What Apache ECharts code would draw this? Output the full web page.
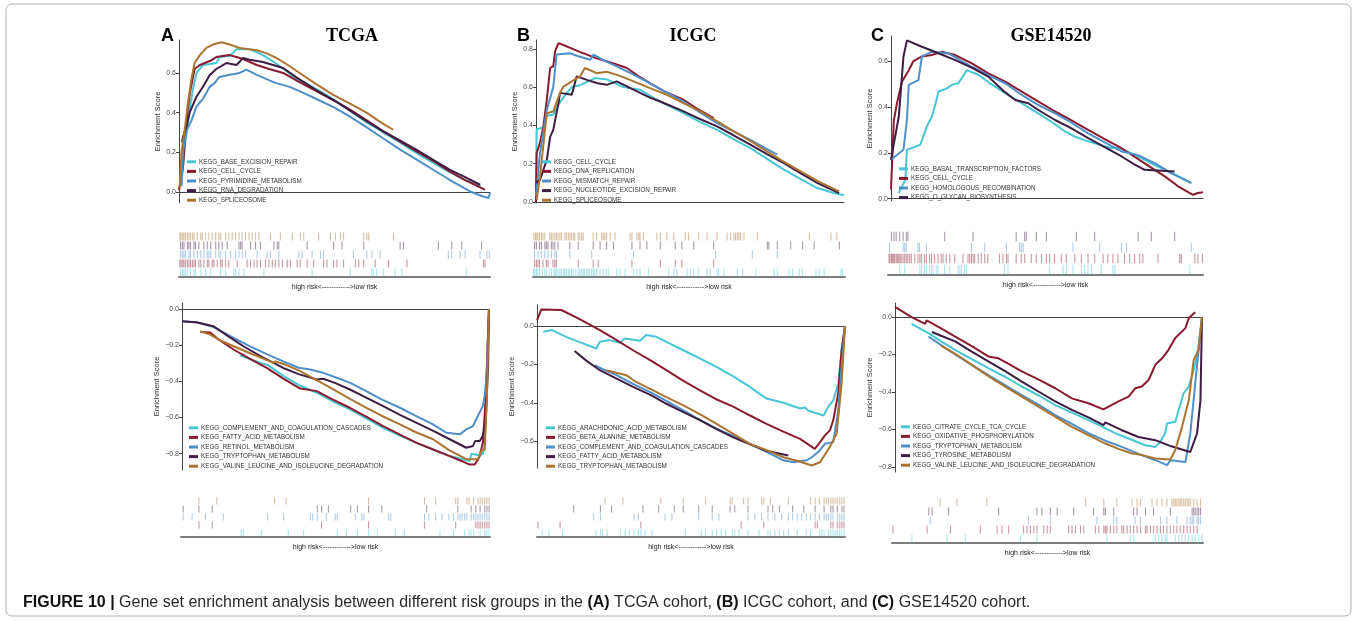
<!DOCTYPE html>
<html>
<head>
<meta charset="utf-8">
<script src="https://cdn.jsdelivr.net/npm/echarts@6/dist/echarts.min.js"></script>
<style>html,body{margin:0;background:#fff}#main{width:1357px;height:621px}</style>
</head>
<body>
<div id="main"></div>
<script>
var colors = ['#47c6d4', '#8a1a2e', '#4f8fc8', '#3d1d42', '#ab7430'];

// ---- TCGA ----
var tcgaUpSets = ['KEGG_BASE_EXCISION_REPAIR', 'KEGG_CELL_CYCLE', 'KEGG_PYRIMIDINE_METABOLISM', 'KEGG_RNA_DEGRADATION', 'KEGG_SPLICEOSOME'];
var tcgaUpCurves = [
  [[0.8,0.045],[2,0.25],[3.5,0.42],[4.5,0.52],[5.6,0.6],[7.7,0.64],[10,0.645],[12,0.65],[13,0.68],[16.3,0.685],[18.5,0.72],[22.7,0.72],[27,0.69],[31,0.65],[37,0.58],[44,0.52],[50,0.465],[55,0.41],[60,0.355],[65.7,0.3],[71,0.25],[76,0.2],[82,0.145],[87,0.1],[92,0.06],[97,0.03]],
  [[0,0.01],[1.3,0.13],[2.4,0.36],[3.5,0.5],[5,0.62],[6.7,0.64],[9.9,0.66],[12,0.68],[14,0.685],[16.3,0.69],[18.5,0.68],[20.6,0.67],[25,0.64],[29,0.62],[33.5,0.6],[38,0.56],[44,0.51],[50,0.46],[55,0.415],[60,0.365],[65.7,0.306],[71,0.255],[76.4,0.205],[82,0.155],[87,0.104],[92,0.06],[97.3,0.02],[98.4,0.012]],
  [[0.8,0.03],[1.3,0.2],[2.4,0.31],[4,0.36],[5.6,0.43],[7.7,0.47],[9.9,0.53],[11.5,0.55],[13,0.58],[16,0.59],[19.5,0.6],[21.7,0.617],[25,0.59],[28,0.57],[31,0.55],[35.6,0.53],[40,0.5],[44,0.47],[50,0.425],[55,0.38],[60,0.33],[65.7,0.27],[71,0.215],[76.4,0.163],[82,0.11],[87,0.062],[93.6,0.003],[97.8,-0.022],[99.5,-0.03],[100,-0.005]],
  [[1,0.25],[1.3,0.28],[2.4,0.33],[3.4,0.4],[5.6,0.48],[7.7,0.53],[9.9,0.59],[12,0.62],[15.2,0.65],[18.5,0.64],[20.6,0.675],[22.7,0.667],[27,0.655],[33.5,0.625],[38,0.575],[44,0.515],[50,0.46],[55,0.41],[60,0.36],[65.7,0.306],[71,0.26],[76.4,0.213],[82,0.16],[87,0.113],[92,0.075],[96.8,0.037]],
  [[0.2,0.02],[0.8,0.2],[1.8,0.31],[2.9,0.45],[4,0.57],[5,0.65],[6.7,0.69],[8.8,0.726],[10.9,0.743],[13.6,0.755],[16.3,0.743],[19.5,0.726],[25,0.714],[28,0.7],[31.3,0.676],[35,0.64],[38.8,0.6],[44,0.545],[49.6,0.49],[55,0.445],[60.3,0.4],[65,0.35],[68.9,0.314]]
];
var tcgaUpHits = [
  [0.5,1.1,1.6,2.1,2.7,3.7,4.8,5.3,7,8.6,10.2,13.4,15,17.6,18.2,19.3,20.9,27.3,42.8,55.1,62,62.6,63.6,65.8,69.5,71.7,92.5],
  [0.3,0.7,1.2,1.6,2.1,2.7,3.2,3.7,4.3,4.8,5.3,6.4,7,8,9.1,9.6,10.7,11.2,12.3,13.4,13.9,15,16,18.7,21.9,23,24.1,25.1,26.2,27.8,28.9,30,31,32.1,33.2,34.8,35.8,38,39,41.2,43.3,46.5,47.6,49.7,50.8,52.9,56.7,57.8,59.4,63.1,67.4,73.3,97.9,98.4],
  [0.5,1.1,1.6,2.1,3.2,3.7,4.8,5.9,7,8,9.1,9.6,10.2,11.8,12.8,13.4,15,16.6,18.2,19.3,20.3,21.4,25.1,28.3,29.4,32.1,38.5,39.6,42.8,45.5,46.5,56.1,60.4,62,64.7,86.6,87.7,90.4,92,96.8,99,99.8],
  [0.5,1.1,1.6,2.7,3.2,3.7,4.8,5.3,6.4,8,9.1,10.2,11.8,12.8,13.9,15.5,19.3,19.8,20.3,23,24.6,26.2,30.5,31.6,32.1,41.2,49.7,52.4,59.4,71.1,72.2,83.4,87.7,90.9,97.3],
  [0.3,0.7,1.2,1.6,2.1,2.7,3.2,3.7,4.3,4.8,5.9,7,7.5,8.6,9.6,10.7,11.8,12.8,13.4,15,16,17.1,18.2,19.3,20.3,21.4,22.5,23.5,24.6,25.7,29.4,32.6,36.4,39,40.1,44.9,48.7,50.3,51.9,52.9,59.4,60.4,61,69]
];
var tcgaDownSets = ['KEGG_COMPLEMENT_AND_COAGULATION_CASCADES', 'KEGG_FATTY_ACID_METABOLISM', 'KEGG_RETINOL_METABOLISM', 'KEGG_TRYPTOPHAN_METABOLISM', 'KEGG_VALINE_LEUCINE_AND_ISOLEUCINE_DEGRADATION'];
var tcgaDownCurves = [
  [[19,-0.257],[22,-0.275],[25.5,-0.298],[28,-0.31],[33,-0.37],[38,-0.42],[43.9,-0.463],[49,-0.51],[54.7,-0.555],[60,-0.605],[65.5,-0.657],[71,-0.7],[76.4,-0.74],[82,-0.778],[87.2,-0.813],[93.7,-0.84],[94.3,-0.8],[97,-0.81],[98,-0.8],[98.6,-0.76],[99.1,-0.5],[100,0]],
  [[6,-0.127],[9.2,-0.13],[12,-0.17],[16.8,-0.224],[22,-0.275],[27.6,-0.326],[33,-0.385],[38.5,-0.44],[43.9,-0.454],[49,-0.5],[54.7,-0.546],[60,-0.595],[65.5,-0.647],[71,-0.695],[76.4,-0.74],[82,-0.778],[87.2,-0.813],[91,-0.84],[93.7,-0.86],[95.3,-0.86],[96.5,-0.83],[97,-0.81],[98,-0.74],[98.9,-0.5],[99.7,-0.13],[100,0]],
  [[0,-0.068],[4.9,-0.074],[10.3,-0.1],[13,-0.125],[16.8,-0.16],[22,-0.205],[27.6,-0.25],[33,-0.29],[38,-0.325],[41.7,-0.335],[46,-0.353],[50.4,-0.38],[55,-0.41],[60,-0.454],[65,-0.5],[71,-0.546],[76,-0.59],[81.8,-0.638],[86.1,-0.684],[90.5,-0.693],[92.6,-0.666],[94.8,-0.647],[96.4,-0.59],[98,-0.537],[98.6,-0.48],[99.3,-0.353],[100,0]],
  [[0,-0.068],[5,-0.075],[10.3,-0.096],[15,-0.15],[20,-0.206],[26,-0.265],[33,-0.326],[38,-0.36],[43.9,-0.39],[46,-0.386],[50,-0.41],[54.7,-0.445],[60,-0.49],[65.5,-0.537],[71,-0.585],[76.4,-0.629],[82,-0.675],[87.2,-0.72],[92.6,-0.767],[94.8,-0.757],[95.5,-0.73],[97,-0.73],[98,-0.7],[98.9,-0.63],[99.7,-0.316],[100,0]],
  [[6,-0.123],[9.2,-0.142],[12,-0.17],[16.8,-0.206],[23,-0.25],[29.8,-0.298],[30.5,-0.29],[34,-0.31],[38.5,-0.344],[44,-0.395],[49.3,-0.445],[55,-0.5],[60.1,-0.546],[65,-0.59],[71,-0.638],[76,-0.68],[81.8,-0.72],[87,-0.78],[92.6,-0.83],[96.4,-0.83],[97.5,-0.785],[98.6,-0.776],[99.3,-0.5],[100,0]]
];
var tcgaDownHits = [
  [19.5,20.2,26,34.7,39.7,50.6,53.5,57.1,60.7,63.6,69.4,72.3,83.8,88.2,91.8,93.2,93.9,94.7,96.8,98.3,99,99.7],
  [5.8,10.1,45.5,60.7,78.8,88.9,95.4,96.1,96.8,97.5,98.3,99,99.7],
  [0.7,3.6,7.9,13.7,28,33.2,41.9,42.6,44.1,47,49.9,50.6,56.4,58.5,59.2,67.2,67.9,78.8,80.2,82.4,84.5,86.7,88.2,89.6,90.3,91,91.8,92.5,93.9,94.7,95.4,96.1,96.8,97.5,98.3,99,99.7],
  [0.7,5.8,10.1,44.1,45.5,47.7,54.9,57.1,60.7,65,79.5,89.6,93.9,95.4,96.8,98.3,99,99.7],
  [5.8,11.6,30.3,34,60.7,78.8,82.4,88.9,89.6,92.5,93.2,94.7,96.1,96.8,97.5,98.3,99,99.7]
];

// ---- ICGC ----
var icgcUpSets = ['KEGG_CELL_CYCLE', 'KEGG_DNA_REPLICATION', 'KEGG_MISMATCH_REPAIR', 'KEGG_NUCLEOTIDE_EXCISION_REPAIR', 'KEGG_SPLICEOSOME'];
var icgcUpCurves = [
  [[0,0.01],[0.2,0.38],[2.4,0.39],[3.5,0.45],[5.6,0.456],[7.3,0.51],[10,0.57],[11.6,0.6],[14.3,0.61],[17,0.63],[19.2,0.647],[23,0.64],[28.4,0.6],[33.8,0.586],[39.3,0.534],[43.5,0.5],[47.9,0.464],[53,0.42],[58.8,0.377],[64,0.33],[69.6,0.282],[75,0.225],[80.5,0.169],[86,0.12],[91.3,0.073],[96.7,0.047],[100,0.035]],
  [[0,0],[0.2,0.256],[1.3,0.31],[2.4,0.395],[3.5,0.534],[4.6,0.7],[5.6,0.708],[6.2,0.786],[7.3,0.83],[8.9,0.82],[14,0.785],[19.7,0.75],[25,0.725],[29.5,0.7],[33,0.66],[37.1,0.62],[42,0.575],[47.9,0.534],[52,0.49],[57.7,0.438]],
  [[0,0.03],[1.3,0.256],[3.5,0.48],[5.6,0.6],[6.7,0.77],[11,0.777],[14,0.76],[17.6,0.743],[18.7,0.77],[22,0.74],[26.2,0.708],[31,0.67],[37.1,0.62],[42,0.575],[47.9,0.525],[53,0.47],[58.8,0.412],[64,0.37],[69.6,0.325],[74,0.285],[78.3,0.247]],
  [[0,0.1],[1.3,0.117],[3.5,0.22],[4.6,0.34],[5.6,0.377],[7.3,0.517],[7.8,0.57],[11.6,0.56],[13.2,0.656],[16.5,0.638],[20,0.62],[23,0.612],[26.2,0.63],[30,0.6],[33.8,0.57],[37,0.545],[40.3,0.525],[44,0.5],[47.9,0.473],[53,0.435],[58.8,0.395],[64,0.35],[69.6,0.3],[75,0.25],[80.5,0.203],[86,0.15],[91.3,0.1],[98.4,0.047]],
  [[0.2,0.012],[1.3,0.134],[3.5,0.464],[5.6,0.473],[7.8,0.57],[8.9,0.603],[11.6,0.63],[14.3,0.656],[15.9,0.7],[19.7,0.673],[23,0.68],[27,0.66],[31.7,0.63],[37,0.595],[42.5,0.56],[48,0.515],[53.4,0.473],[59,0.42],[64.2,0.369],[70,0.315],[75,0.264],[80,0.215],[85.9,0.16],[92,0.105],[98.4,0.056]]
];
var icgcUpHits = [
  [0.2,0.6,1.1,1.5,2.1,3,3.8,4.3,5.2,5.9,6.7,7.1,7.5,8,8.6,9.1,9.7,10.2,10.7,11.3,11.8,12.3,12.9,13.7,14.5,15,15.6,16.1,16.6,17.2,17.7,18.2,18.8,19.3,19.8,20.4,21.5,22.5,23.4,24.1,26.8,27.9,29.5,32.2,33.3,34.3,37,43.5,45.1,46.1,49.4,50.4,51.5,53.1,55.8,56.9,59,59.5,61.2,65.5,67.1,71.4,77.3,78.3,82.1,83.2,85.3,86.4,90.7,91.7,93.3,98.7,99.2],
  [0.5,1.1,1.6,2.1,3.2,4.3,4.8,6.4,7,7.5,14.5,19.3,20.9,31.7,40.8,45.6,47.7,57.9],
  [0.5,1.6,2.7,3.8,4.8,5.9,7,7.5,11.8,18.8,32.2,58.5,70.3,78.3],
  [0.5,1.1,2.1,2.7,3.8,4.3,4.8,5.9,6.4,7,8,11.8,14.5,19.3,21.5,23.6,25.8,31.7,34.3,36.5,40.8,45.6,47.7,51.5,57.9,75.1,75.6,78.3,82.6,86.4,90.1,98.2],
  [0.3,0.8,1.2,1.6,2.1,2.7,3.2,3.8,5.4,5.9,6.4,7,7.5,8,8.6,9.1,10.2,10.7,11.3,11.8,12.3,12.9,13.4,14.5,15,15.6,16.1,19.3,20.4,22,22.5,23,23.6,24.7,26.3,31.1,31.7,33.3,33.9,34.3,35.4,39.7,40.8,42.9,45.1,48.8,49.9,53.1,55.8,59,62.2,63.3,64.4,64.9,65.5,66,66.5,67.6,71.9,88.6,95.5,97.4]
];
var icgcDownSets = ['KEGG_ARACHIDONIC_ACID_METABOLISM', 'KEGG_BETA_ALANINE_METABOLISM', 'KEGG_COMPLEMENT_AND_COAGULATION_CASCADES', 'KEGG_FATTY_ACID_METABOLISM', 'KEGG_TRYPTOPHAN_METABOLISM'];
var icgcDownCurves = [
  [[2,-0.03],[4.7,-0.02],[9.5,-0.056],[14,-0.085],[19.3,-0.117],[20.4,-0.082],[23.6,-0.073],[26.9,-0.087],[28.5,-0.065],[33.4,-0.077],[35.5,-0.047],[38.8,-0.056],[43,-0.09],[47.5,-0.126],[53,-0.17],[58.3,-0.213],[64,-0.265],[69.1,-0.317],[74.5,-0.378],[80,-0.4],[85.4,-0.43],[87,-0.425],[88,-0.44],[93,-0.466],[94.6,-0.42],[96.2,-0.387],[97.8,-0.3],[98.9,-0.126],[100,0]],
  [[0,0.03],[1.4,0.087],[7.9,0.084],[14,0.035],[20.4,-0.021],[26,-0.075],[31.2,-0.126],[37,-0.18],[42,-0.23],[47,-0.28],[52.9,-0.335],[58,-0.38],[63.7,-0.42],[69,-0.465],[74.5,-0.51],[80,-0.55],[85.4,-0.588],[90.2,-0.64],[91.9,-0.605],[93.5,-0.57],[95.1,-0.544],[96.2,-0.49],[97.8,-0.35],[98.9,-0.126],[100,0]],
  [[18.7,-0.204],[22,-0.23],[25.8,-0.256],[31,-0.3],[36.6,-0.343],[42,-0.39],[47.5,-0.44],[53,-0.49],[58.3,-0.535],[64,-0.575],[69.1,-0.614],[75,-0.66],[80,-0.7],[83.2,-0.71],[87.5,-0.7],[89.2,-0.684],[91.3,-0.657],[93.5,-0.614],[96.2,-0.605],[97.8,-0.44],[98.9,-0.213],[100,0]],
  [[12.2,-0.13],[16,-0.18],[20.4,-0.23],[26,-0.275],[31.2,-0.317],[37,-0.36],[42,-0.405],[47,-0.445],[52.9,-0.49],[58,-0.535],[63.7,-0.58],[69,-0.615],[74.5,-0.65],[81.6,-0.675]],
  [[22.5,-0.23],[29,-0.256],[32,-0.29],[36.6,-0.326],[42,-0.37],[47.5,-0.413],[53,-0.46],[58.3,-0.51],[64,-0.565],[69.1,-0.614],[75,-0.65],[80,-0.684],[85,-0.705],[89.2,-0.727],[91.9,-0.71],[95.1,-0.63],[97.3,-0.56],[98.9,-0.3],[100,0]]
];
var icgcDownHits = [
  [1.7,3.9,8.3,19.2,20.6,21.3,22.8,27.1,28.6,30,31.5,32.9,33.7,35.1,37.3,48.2,53.3,54.7,56.9,58.3,59.8,61.2,63.4,64.2,65.6,68.5,72.1,75,75.8,77.2,78.7,80.1,81.6,84.5,87.4,88.8,91.7,92.5,93.2,94.6,95.4,96.1,96.8,97.5,98.3,99,99.7],
  [0.3,7.5,33.7,66.3,73.6,90.3,91,95.4,96.1,97.5,98.3,99,99.7],
  [18.4,20.6,31.5,32.9,41.6,43.8,52.5,56.9,59,68.5,70.7,72.9,75,77.2,79.4,81.6,83,84.5,85.9,87.4,88.8,90.3,91.7,93.2,93.9,94.6,95.4,96.1,97.5,98.3,99,99.7],
  [11.9,20.6,24.2,34.4,39.5,44.6,47.5,52.5,56.9,62.7,64.2,68.5,75,76.5,78.7,83,86.6,90.3,93.2,95.4,96.1,97.5,99,99.7],
  [22.1,27.9,40.2,47.5,54.7,62.7,63.4,67.1,68.5,72.9,73.6,75.8,81.6,88.8,90.3,91.7,93.2,93.9,94.6,95.4,96.1,96.8,97.5,98.3,99,99.7]
];

// ---- GSE14520 ----
var gseUpSets = ['KEGG_BASAL_TRANSCRIPTION_FACTORS', 'KEGG_CELL_CYCLE', 'KEGG_HOMOLOGOUS_RECOMBINATION', 'KEGG_O_GLYCAN_BIOSYNTHESIS'];
var gseUpCurves = [
  [[2.5,0.025],[4.6,0.083],[5.1,0.213],[9.4,0.235],[11.5,0.315],[13.1,0.358],[14.2,0.41],[15.2,0.467],[17.9,0.48],[19.5,0.496],[21.6,0.503],[24.3,0.56],[28,0.54],[32,0.5],[36.6,0.46],[42,0.415],[47.2,0.372],[52,0.33],[55.8,0.293],[59,0.27],[63.2,0.25],[70.7,0.22],[72.8,0.223],[79.2,0.184],[84,0.15],[89.9,0.112],[96.3,0.068]],
  [[0,0.04],[0.9,0.34],[1.9,0.416],[3.5,0.51],[5.7,0.56],[7.2,0.6],[9.9,0.62],[13.1,0.626],[16.3,0.64],[20.6,0.626],[25.9,0.59],[31.2,0.546],[36.6,0.51],[41.9,0.467],[47,0.425],[52.6,0.38],[58,0.34],[63.2,0.3],[68.5,0.26],[73.9,0.22],[79,0.175],[84.5,0.126],[88,0.095],[92,0.054],[96.8,0.017],[98.4,0.025],[100,0.028]],
  [[0,0.17],[4,0.213],[5.1,0.343],[5.7,0.496],[8.8,0.517],[9.9,0.62],[13.1,0.64],[18.4,0.633],[22,0.605],[25.9,0.575],[31,0.54],[36.6,0.503],[41.9,0.452],[47,0.41],[52.6,0.372],[58,0.33],[63.2,0.285],[68.5,0.245],[73.9,0.206],[79.2,0.19],[84.5,0.155],[90,0.11],[96.3,0.068]],
  [[0,0.17],[2.5,0.358],[4,0.62],[5.1,0.69],[9.9,0.662],[15,0.635],[20.6,0.604],[26,0.57],[31.2,0.532],[36,0.47],[39.8,0.43],[44,0.416],[48,0.38],[52.6,0.343],[58,0.305],[63.2,0.264],[68.5,0.225],[73.9,0.184],[78,0.15],[81.3,0.126],[90.9,0.119]]
];
var gseUpHits = [
  [3.7,5.3,10.1,10.6,11.6,12.2,13.2,13.8,14.3,15.3,15.9,18,19.6,22.2,22.8,23.3,24.3,24.9,37,38.1,51.3,55.6,56.6,58.7,61.4,62.4,63.5,64.6,67.7,71.4,72,95.8],
  [0.3,0.6,1.1,1.4,1.8,2.1,2.6,3,3.4,3.8,4.2,4.8,5.3,5.8,6.3,6.9,7.4,8.5,9.5,10.1,10.6,11.6,12.2,13.2,13.8,14.8,15.9,16.9,17.5,18.5,19.6,21.2,23.8,25.4,25.9,26.5,27,27.5,28.6,29.6,30.7,31.7,35.4,36.5,37.6,38.1,40.7,42.3,43.4,45.5,47.1,48.7,50.3,51.3,52.9,55,56.6,59.3,61.4,63.5,65.6,68.3,69.8,71.4,73,75.1,76.7,78.3,79.9,80.9,85.7,92.6,93.1,97.4,98.4,99.8],
  [0.5,4.8,5.3,5.8,9.5,10,12.2,26.5,30.7,37.6,41.8,42.3,42.9,58.7,67.2,74.1,75.7,96.3],
  [1.1,1.9,2.6,3.7,4.8,5.8,6.3,18,27,40.7,43.4,43.9,47.1,50.3,59.8,65.6,79.4,83.6,91]
];
var gseDownSets = ['KEGG_CITRATE_CYCLE_TCA_CYCLE', 'KEGG_OXIDATIVE_PHOSPHORYLATION', 'KEGG_TRYPTOPHAN_METABOLISM', 'KEGG_TYROSINE_METABOLISM', 'KEGG_VALINE_LEUCINE_AND_ISOLEUCINE_DEGRADATION'];
var gseDownCurves = [
  [[5.4,-0.036],[10.9,-0.086],[15,-0.13],[19.6,-0.175],[25,-0.225],[30.4,-0.273],[36,-0.32],[41.3,-0.371],[47,-0.42],[52.2,-0.47],[57.6,-0.51],[63,-0.55],[67.5,-0.585],[71.7,-0.62],[76.1,-0.648],[81.5,-0.684],[84.8,-0.693],[86.4,-0.666],[88,-0.62],[88.6,-0.568],[91.3,-0.559],[92.4,-0.496],[94,-0.407],[95.7,-0.371],[96.7,-0.318],[98.4,-0.21],[100,0]],
  [[0,0.054],[5.4,0],[9.8,-0.036],[10.3,-0.018],[15,-0.06],[19.6,-0.104],[25,-0.155],[30.4,-0.21],[33.7,-0.22],[37,-0.25],[41.3,-0.29],[47,-0.335],[52.2,-0.38],[57.6,-0.434],[63,-0.46],[67.9,-0.493],[69.6,-0.478],[72.8,-0.45],[76.1,-0.425],[78.3,-0.38],[80.4,-0.371],[82.6,-0.336],[84.8,-0.255],[87,-0.22],[89.1,-0.175],[91.3,-0.112],[94.6,-0.059],[95.7,-0.005],[97.8,0.025]],
  [[10.9,-0.104],[15,-0.15],[19.6,-0.2],[25,-0.255],[30.4,-0.31],[36,-0.365],[41.3,-0.416],[47,-0.47],[52.2,-0.523],[57.6,-0.57],[63,-0.62],[68.5,-0.66],[73.9,-0.693],[79.3,-0.73],[84.8,-0.764],[88.6,-0.79],[89.7,-0.764],[94.6,-0.773],[96.2,-0.62],[97.8,-0.354],[100,0]],
  [[12,-0.08],[15,-0.1],[19.6,-0.13],[25,-0.185],[30.4,-0.237],[36,-0.29],[41.3,-0.345],[47,-0.4],[52.2,-0.45],[57.6,-0.495],[63,-0.535],[67.9,-0.577],[68.5,-0.562],[73.9,-0.604],[79.3,-0.64],[84.8,-0.657],[90,-0.69],[96.2,-0.72],[98.4,-0.62],[99.5,-0.443],[100,0]],
  [[15,-0.152],[20,-0.2],[25,-0.255],[30.4,-0.315],[35.9,-0.371],[41.3,-0.425],[46.7,-0.478],[52,-0.53],[57.6,-0.586],[63,-0.63],[68.5,-0.675],[73,-0.705],[77.2,-0.728],[79.3,-0.732],[84.8,-0.755],[89.7,-0.76],[91.3,-0.71],[93.5,-0.586],[95.7,-0.443],[97.3,-0.229],[98.9,-0.175],[100,0]]
];
var gseDownHits = [
  [6.4,17.7,23.6,41.3,46.6,69.1,76.6,77.7,84.7,85.7,86.8,87.9,88.4,91.1,92.2,93.2,94.3,95.4,96.5,97.5,98.6,99.7],
  [0.3,11.3,18.8,28.4,33.8,35.4,37.5,42.3,43.4,44.5,45.6,46.6,48.8,49.9,50.9,56.8,57.9,59,60.6,61.7,65.4,66.5,68.1,68.6,69.1,70.2,71.3,72.3,73.9,74.5,75.6,76.6,77.7,78.8,79.9,81.5,82,83.1,84.1,85.2,86.3,87.3,88.4,89.5,90.6,91.6,92.7,93.8,94.9,95.9,97,98.1],
  [12.3,43.9,50.9,65.9,71.3,72.3,78.2,79.9,86.3,88.4,91.6,94.9,95.9,96.5,97,98.1,98.6,99.2],
  [11.8,12.9,18.2,34.3,46.6,48.2,50.9,53.1,58.4,64.8,68.1,68.6,71.3,77.7,78.8,81.5,84.1,89.5,96.5,97,97.5,98.1,98.6,99.2],
  [15.5,20.9,30.5,62.2,68.1,72.3,77.2,78.8,79.9,83.6,85.2,86.8,88.4,90,90.6,91.1,91.6,92.2,92.7,93.2,93.8,94.3,94.9,95.4,95.9,97,98.1,99.2]
];

var esTicksUp = [0, 0.2, 0.4, 0.6];
var esTicksUpB = [0, 0.2, 0.4, 0.6, 0.8];
var esTicksDown = [-0.8, -0.6, -0.4, -0.2, 0];
var esTicksDownB = [-0.6, -0.4, -0.2, 0];
var rugLabel = 'high risk<------------>low risk';

var grids = [], xAxes = [], yAxes = [], series = [], legends = [];

function fmt(v) {
  return v < 0 ? '\u2212' + Math.abs(v).toFixed(1) : v.toFixed(1);
}

function esPanel(tag, box, yMin, yMax, ticks, sets, curves, leg) {
  var i = grids.length;
  grids.push(box);
  xAxes.push({
    type: 'value', gridIndex: i, min: 0, max: 100,
    axisLine: {show: true, onZero: true, lineStyle: {color: '#444', width: 1}},
    axisTick: {show: false}, axisLabel: {show: false}, splitLine: {show: false}
  });
  yAxes.push({
    type: 'value', gridIndex: i, min: yMin, max: yMax,
    name: 'Enrichment Score', nameLocation: 'middle', nameGap: 16,
    nameTextStyle: {fontSize: 7.5, color: '#333'},
    axisLine: {show: true, onZero: false, lineStyle: {color: '#444', width: 1}},
    axisTick: {show: true, length: 3, customValues: ticks, lineStyle: {color: '#444'}},
    axisLabel: {fontSize: 7, color: '#4a4a4a', margin: 3, customValues: ticks, formatter: fmt},
    splitLine: {show: false}
  });
  var names = [];
  sets.forEach(function (s, k) {
    var nm = s + '#' + tag;
    names.push(nm);
    series.push({
      type: 'line', name: nm, xAxisIndex: i, yAxisIndex: i,
      data: curves[k], showSymbol: false, silent: true,
      color: colors[k], lineStyle: {width: 2, color: colors[k]}
    });
  });
  legends.push({
    data: names, orient: 'vertical', left: leg[0], top: leg[1],
    icon: 'rect', itemWidth: 9, itemHeight: 3, itemGap: 0, selectedMode: false,
    formatter: function (n) { return n.split('#')[0]; },
    textStyle: {fontSize: 6.3, color: '#333', lineHeight: 9.6, padding: [0, 0, 0, -2]}
  });
}

function rugPanel(box, sets, hits) {
  var i = grids.length;
  grids.push(box);
  var band = box.height / sets.length;
  xAxes.push({
    type: 'value', gridIndex: i, min: 0, max: 100,
    name: rugLabel, nameLocation: 'middle', nameGap: 7,
    nameTextStyle: {fontSize: 7, color: '#222'},
    axisLine: {show: true, onZero: false, lineStyle: {color: '#7d7d7d', width: 2}},
    axisTick: {show: false}, axisLabel: {show: false}, splitLine: {show: false}
  });
  yAxes.push({type: 'category', gridIndex: i, data: sets, show: false});
  sets.forEach(function (s, k) {
    series.push({
      type: 'scatter', xAxisIndex: i, yAxisIndex: i, silent: true,
      symbol: 'rect', symbolSize: [1.1, band * 0.88],
      itemStyle: {color: colors[k], opacity: 0.45},
      data: hits[k].map(function (x) { return [x, s]; })
    });
  });
}

esPanel('A1', {left: 179, top: 40, width: 311, height: 163}, -0.055, 0.766, esTicksUp, tcgaUpSets, tcgaUpCurves, [182, 152]);
rugPanel({left: 179, top: 232, width: 311, height: 45}, tcgaUpSets, tcgaUpHits);
esPanel('A2', {left: 182, top: 303, width: 307, height: 167}, -0.89, 0.033, esTicksDown, tcgaDownSets, tcgaDownCurves, [184, 418]);
rugPanel({left: 181, top: 497, width: 309, height: 40}, tcgaDownSets, tcgaDownHits);

esPanel('B1', {left: 536, top: 40, width: 308, height: 163}, -0.005, 0.846, esTicksUpB, icgcUpSets, icgcUpCurves, [537, 152]);
rugPanel({left: 533, top: 232, width: 312, height: 45}, icgcUpSets, icgcUpHits);
esPanel('B2', {left: 537, top: 305, width: 308, height: 163}, -0.74, 0.11, esTicksDownB, icgcDownSets, icgcDownCurves, [541, 418]);
rugPanel({left: 537, top: 497, width: 308, height: 40}, icgcDownSets, icgcDownHits);

esPanel('C1', {left: 891, top: 36, width: 312, height: 165}, -0.01, 0.709, esTicksUp, gseUpSets, gseUpCurves, [894, 159]);
rugPanel({left: 888, top: 231, width: 315, height: 44}, gseUpSets, gseUpHits);
esPanel('C2', {left: 895, top: 303, width: 307, height: 169}, -0.827, 0.075, esTicksDown, gseDownSets, gseDownCurves, [896, 417]);
rugPanel({left: 892, top: 498, width: 311, height: 45}, gseDownSets, gseDownHits);

var chart = echarts.init(document.getElementById('main'));
chart.setOption({
  animation: false,
  backgroundColor: '#fff',
  textStyle: {fontFamily: 'Liberation Sans'},
  title: [
    {text: 'A', left: 156, top: 22, textStyle: {fontSize: 18, fontWeight: 'bold', color: '#000'}},
    {text: 'B', left: 512, top: 22, textStyle: {fontSize: 18, fontWeight: 'bold', color: '#000'}},
    {text: 'C', left: 866, top: 22, textStyle: {fontSize: 18, fontWeight: 'bold', color: '#000'}},
    {text: 'TCGA', left: 347, top: 22, textAlign: 'center', textStyle: {fontSize: 18, fontWeight: 'bold', fontFamily: 'Liberation Serif', color: '#000'}},
    {text: 'ICGC', left: 688, top: 22, textAlign: 'center', textStyle: {fontSize: 18, fontWeight: 'bold', fontFamily: 'Liberation Serif', color: '#000'}},
    {text: 'GSE14520', left: 1046, top: 22, textAlign: 'center', textStyle: {fontSize: 18, fontWeight: 'bold', fontFamily: 'Liberation Serif', color: '#000'}},
    {
      text: '{b|FIGURE 10 |}{n| Gene set enrichment analysis between different risk groups in the }{b|(A)}{n| TCGA cohort, }{b|(B)}{n| ICGC cohort, and }{b|(C)}{n| GSE14520 cohort.}',
      left: 18, top: 590,
      textStyle: {
        fontWeight: 'normal',
        rich: {
          b: {fontSize: 16, fontWeight: 'bold', color: '#111', fontFamily: 'Liberation Sans'},
          n: {fontSize: 16, fontWeight: 'normal', color: '#2a2a2a', fontFamily: 'Liberation Sans'}
        }
      }
    }
  ],
  graphic: [{
    type: 'rect', silent: true,
    shape: {x: 6, y: 4, width: 1345, height: 612, r: 6},
    style: {fill: 'none', stroke: '#b0b0b0', lineWidth: 1}
  }],
  legend: legends,
  grid: grids,
  xAxis: xAxes,
  yAxis: yAxes,
  series: series
});
</script>
</body>
</html>
